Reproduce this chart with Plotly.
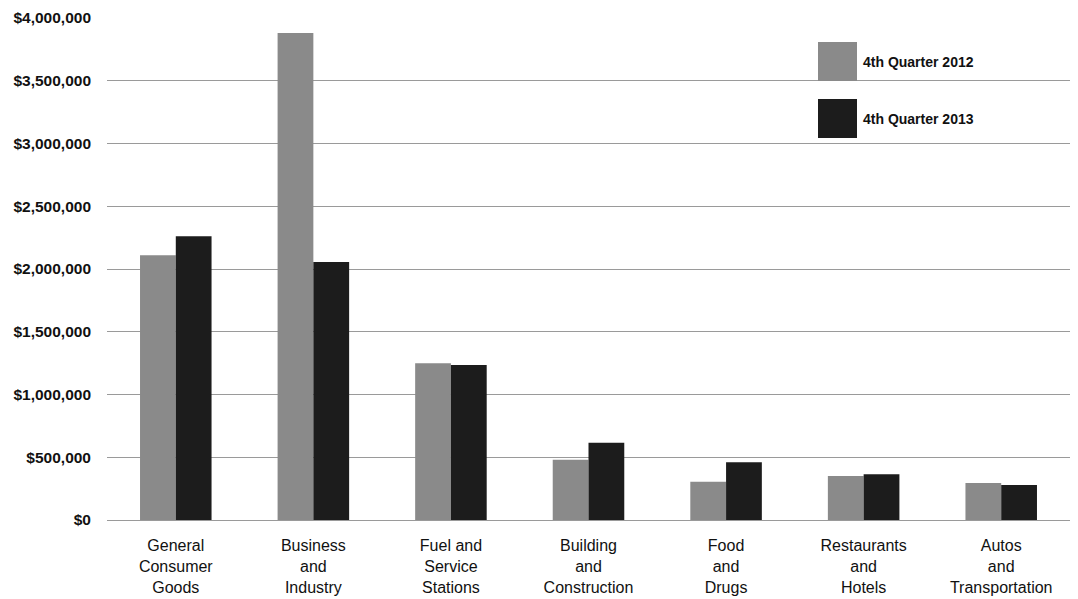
import plotly.graph_objects as go

categories = ["General<br>Consumer<br>Goods", "Business<br>and<br>Industry", "Fuel and<br>Service<br>Stations",
              "Building<br>and<br>Construction", "Food<br>and<br>Drugs", "Restaurants<br>and<br>Hotels",
              "Autos<br>and<br>Transportation"]
q4_2012 = [2110000, 3880000, 1250000, 480000, 305000, 350000, 295000]
q4_2013 = [2260000, 2055000, 1235000, 615000, 460000, 365000, 278000]
series_names = ["4th Quarter 2012", "4th Quarter 2013"]
tick_vals = [0, 500000, 1000000, 1500000, 2000000, 2500000, 3000000, 3500000, 4000000]
tick_text = ["$0", "$500,000", "$1,000,000", "$1,500,000", "$2,000,000", "$2,500,000",
             "$3,000,000", "$3,500,000", "$4,000,000"]

c2012 = "#8a8a8a"
c2013 = "#1c1c1c"
font_fam = "Liberation Sans, Arial, sans-serif"

fig = go.Figure()
fig.add_trace(go.Bar(x=categories, y=q4_2012, name=series_names[0], marker_color=c2012,
                     marker_line_width=0, showlegend=False))
fig.add_trace(go.Bar(x=categories, y=q4_2013, name=series_names[1], marker_color=c2013,
                     marker_line_width=0, showlegend=False))

# page body adds an 8px offset; compensate so the plot lands where the reference has it
OFF = 8
W, H = 1078 - OFF, 599 - OFF
L, R, T, B = 107 - OFF, 8, 18 - OFF, 79
pw, ph = W - L - R, H - T - B

# custom legend (large swatches as in the reference), positions in page pixels
legend_items = [(series_names[0], c2012, 42, 81), (series_names[1], c2013, 99, 138)]
for name, col, y0, y1 in legend_items:
    fig.add_shape(type="rect", xref="paper", yref="paper",
                  x0=(818 - OFF - L) / pw, x1=(857 - OFF - L) / pw,
                  y0=1 - (y1 - OFF - T) / ph, y1=1 - (y0 - OFF - T) / ph,
                  fillcolor=col, line_width=0, layer="above")
    fig.add_annotation(xref="paper", yref="paper", x=(861 - OFF - L) / pw,
                       y=1 - ((y0 + y1) / 2 - OFF - T) / ph,
                       text=name, showarrow=False, xanchor="left", yanchor="middle",
                       font=dict(family=font_fam, size=14, color="#111", weight="bold"))

fig.update_layout(
    width=W, height=H,
    margin=dict(l=L, r=R, t=T, b=B, autoexpand=False),
    plot_bgcolor="white", paper_bgcolor="white",
    barmode="group", bargap=0.48, bargroupgap=0,
    font=dict(family=font_fam, size=16, color="#111"),
    xaxis=dict(showgrid=False, showline=False, ticks="", tickfont=dict(size=16), tickangle=0,
               automargin=False, ticklabelstandoff=14),
    yaxis=dict(range=[0, 4000000], tickvals=tick_vals, ticktext=tick_text,
               showgrid=True, gridcolor="#9a9a9a", gridwidth=1, zeroline=True,
               zerolinecolor="#9a9a9a", zerolinewidth=1, showline=False,
               ticks="", ticklabelstandoff=15, automargin=False,
               tickfont=dict(size=15.5, family=font_fam, weight="bold")),
)
fig.write_html("out.html")
